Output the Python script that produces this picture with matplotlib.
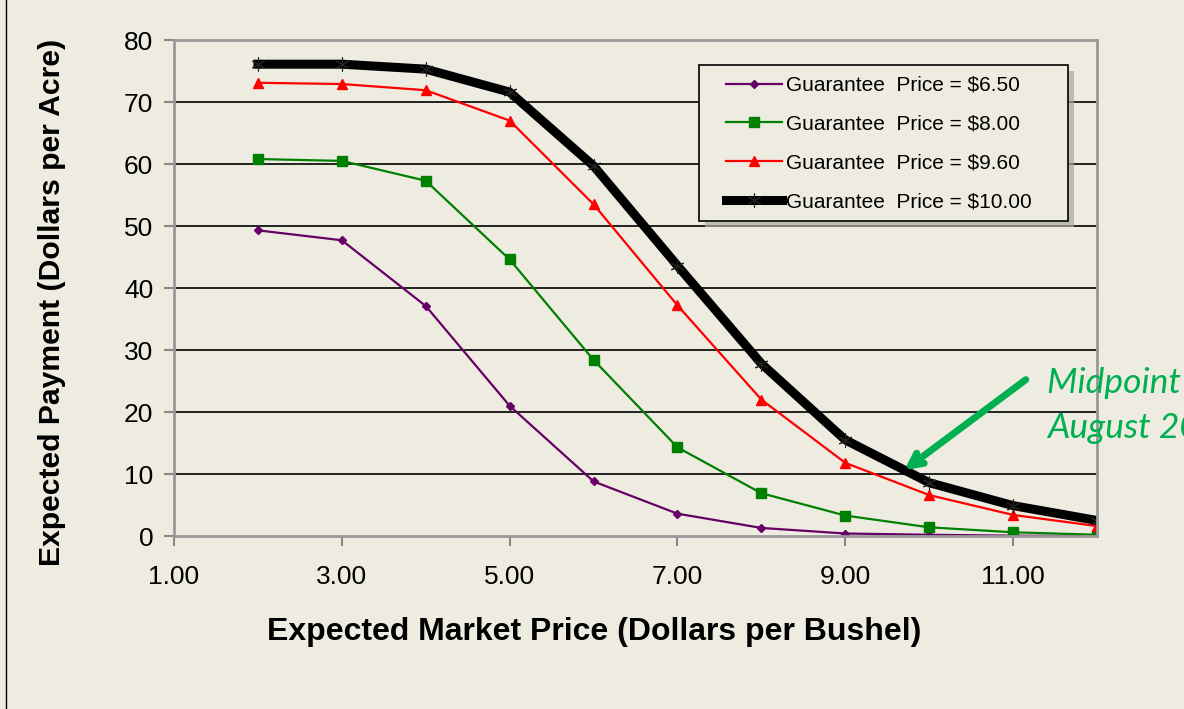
import numpy as np
import matplotlib.pyplot as plt
from matplotlib.lines import Line2D
from matplotlib.patches import Rectangle

# market price (x) and expected payments for each guarantee price
price = [2, 3, 4, 5, 6, 7, 8, 9, 10, 11, 12]
pay_650 = [49.3, 47.7, 37.1, 21.0, 8.8, 3.6, 1.3, 0.4, 0.2, 0.05, 0.0]
pay_800 = [60.8, 60.5, 57.3, 44.6, 28.4, 14.3, 6.9, 3.3, 1.4, 0.6, 0.2]
pay_960 = [73.1, 72.9, 71.9, 67.0, 53.5, 37.2, 22.0, 11.8, 6.6, 3.4, 1.6]
pay_1000 = [76.1, 76.1, 75.3, 71.6, 59.7, 43.6, 27.8, 15.5, 8.6, 4.9, 2.5]
labels = ['Guarantee  Price = $6.50', 'Guarantee  Price = $8.00',
          'Guarantee  Price = $9.60', 'Guarantee  Price = $10.00']
xticks = [1, 3, 5, 7, 9, 11]
yticks = [0, 10, 20, 30, 40, 50, 60, 70, 80]

bg = '#EEECE1'
W, H = 1184, 709
plt.rcParams['font.family'] = ['Liberation Sans', 'DejaVu Sans']

fig = plt.figure(figsize=(11.84, 7.09), dpi=100, facecolor=bg)
ax = fig.add_axes([174/W, 1-536/H, (1097-174)/W, (536-40)/H])
ax.set_facecolor(bg)

ax.plot(price, pay_650, color='#660066', lw=1.6, marker='D', ms=4.5, label=labels[0])
ax.plot(price, pay_800, color='#008000', lw=1.6, marker='s', ms=7, label=labels[1])
ax.plot(price, pay_960, color='#FF0000', lw=1.6, marker='^', ms=7, label=labels[2])
ax.plot(price, pay_1000, color='black', lw=6.5, marker=(6, 2, 0), ms=10,
        mec='#222222', mew=0.8, label=labels[3])

ax.set_xlim(1, 12)
ax.set_ylim(0, 80)
ax.set_xticks(xticks)
ax.set_xticklabels(['%.2f' % t for t in xticks])
ax.set_yticks(yticks)
for y in yticks[1:-1]:
    ax.axhline(y, color='black', lw=1.2, zorder=0)
for s in ax.spines.values():
    s.set_color('#999999')
    s.set_linewidth(2)
ax.tick_params(axis='both', labelsize=19, colors='#888888', labelcolor='black',
               length=7, width=1.5, direction='out', pad=8)
ax.tick_params(axis='x', pad=14)

ax.set_xlabel('Expected Market Price (Dollars per Bushel)', fontsize=23,
              fontweight='bold')
ax.set_ylabel('Expected Payment (Dollars per Acre)', fontsize=21.7,
              fontweight='bold')
ax.xaxis.set_label_coords((594-174)/923, (536-617)/496)
ax.yaxis.set_label_coords((66-174)/923, (536-302)/496)

# legend box drawn by hand (wide side padding like the original)
ax.add_patch(Rectangle((705/W, 1-227/H), 369/W, 156/H, transform=fig.transFigure,
                       facecolor='#A8A8A0', edgecolor='none', alpha=0.7,
                       clip_on=False, zorder=4))
ax.add_patch(Rectangle((699/W, 1-221/H), 369/W, 156/H, transform=fig.transFigure,
                       facecolor=bg, edgecolor='black', lw=1.2,
                       clip_on=False, zorder=4.5))
leg = ax.legend(loc='upper left', bbox_to_anchor=(705/W, 1-55/H),
                bbox_transform=fig.transFigure, fontsize=15, frameon=False,
                handlelength=2.7, labelspacing=0.95, borderpad=0.5,
                handletextpad=0.2)
leg.set_zorder(5)

# annotation arrow + text (text runs off the right edge)
fig.text(1047/W, 1-393/H, 'Midpoint of', fontsize=25.5,
         family=['Lato', 'DejaVu Sans'], style='italic', color='#00B050',
         ha='left', va='baseline')
fig.text(1047/W, 1-438/H, 'August 2012', fontsize=25.5,
         family=['Lato', 'DejaVu Sans'], style='italic', color='#00B050',
         ha='left', va='baseline')
ax.annotate('', xy=(902/W, 1-472/H), xycoords='figure fraction',
            xytext=(1028/W, 1-378/H), textcoords='figure fraction',
            arrowprops=dict(arrowstyle='->,head_length=0.9,head_width=0.45',
                            color='#00B050', lw=5))

# thin frame line on the left edge
fig.add_artist(Line2D([6/W, 6/W], [0, 1], transform=fig.transFigure,
                      color='black', lw=1))

fig.savefig('out.png', dpi=100, facecolor=bg)
